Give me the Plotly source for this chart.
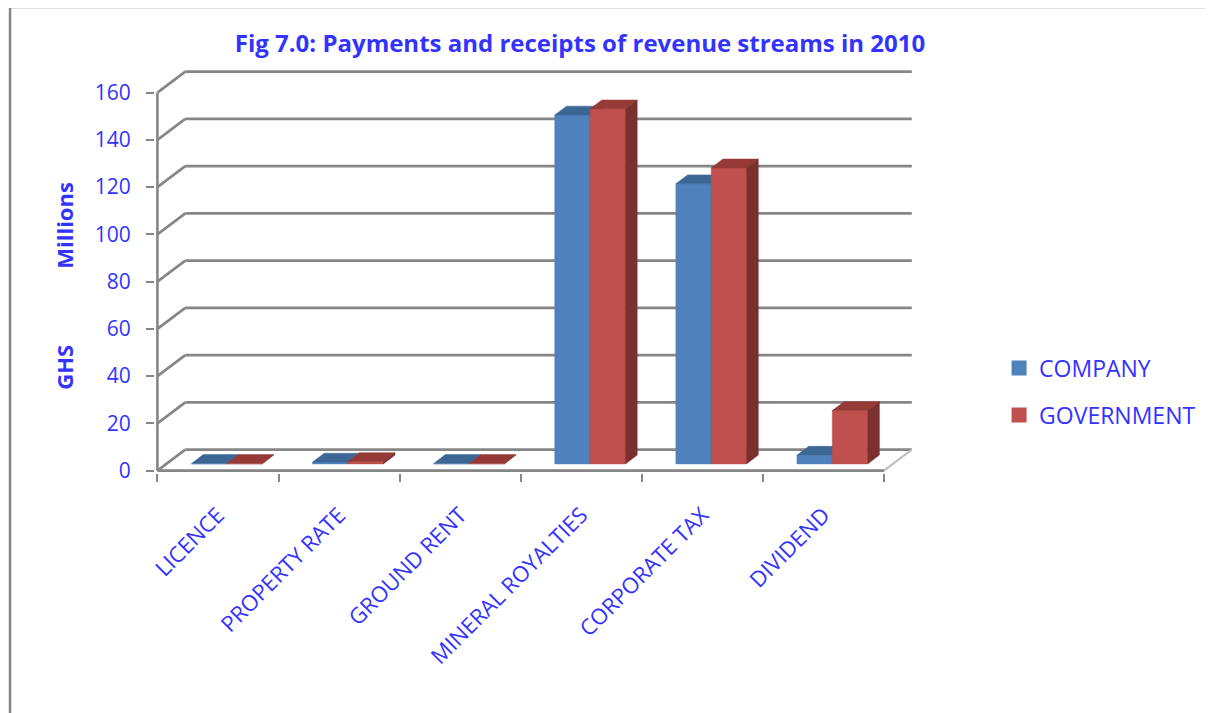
import plotly.graph_objects as go

# ---------------- data ----------------
categories = ["LICENCE", "PROPERTY RATE", "GROUND RENT", "MINERAL ROYALTIES", "CORPORATE TAX", "DIVIDEND"]
company = [0.2, 0.8, 0.2, 147.7, 118.6, 3.7]
government = [0.2, 1.0, 0.2, 150.3, 125.3, 22.6]
series_names = ["COMPANY", "GOVERNMENT"]
y_ticks = [0, 20, 40, 60, 80, 100, 120, 140, 160]

# ---------------- styling / geometry ----------------
BLUE_TXT = "#3333FF"
GRID = "#868686"
FONT = "Open Sans"
face_cols = {
    "COMPANY": ("#4F81BD", "#3C6694", "#385D8A"),
    "GOVERNMENT": ("#C0504D", "#953A37", "#7A302E"),
}
WALL_DX = 0.23      # depth offset (category units)
WALL_DY = 8.89      # depth offset (value units)
F_FRONT = 0.32      # bar front at this depth fraction
F_BACK = 0.74       # bar back at this depth fraction
BAR_W = 0.292

# page body has an 8px margin; work in page pixels and convert
OX, OY = 8, 8
W, H = 1213 - OX, 713 - OY

n = len(categories)
xmin, xmax = -0.5, n - 0.5

fig = go.Figure()

# ---- walls / gridlines ----
gx, gy = [], []
for v in y_ticks:
    gx += [xmin + WALL_DX, xmax + WALL_DX, None]
    gy += [v + WALL_DY, v + WALL_DY, None]
    gx += [xmin, xmin + WALL_DX, None]
    gy += [v, v + WALL_DY, None]
fig.add_trace(go.Scatter(x=gx, y=gy, mode="lines", line=dict(color=GRID, width=2.6),
                         hoverinfo="skip", showlegend=False))
fig.add_trace(go.Scatter(x=[xmin, xmax, xmax + WALL_DX], y=[0, 0, WALL_DY], mode="lines",
                         line=dict(color="#BFBFBF", width=2), hoverinfo="skip", showlegend=False))
fig.add_trace(go.Scatter(x=[xmin, xmin, None, xmin, xmax], y=[y_ticks[-1], 0, None, 0, 0], mode="lines",
                         line=dict(color=GRID, width=2.6), hoverinfo="skip", showlegend=False))

# ---- 3D bars ----
ddx = (F_BACK - F_FRONT) * WALL_DX
ddy = (F_BACK - F_FRONT) * WALL_DY
for s_idx, (name, vals) in enumerate(zip(series_names, [company, government])):
    front_c, top_c, side_c = face_cols[name]
    fx, fy, tx, ty, sx, sy = [], [], [], [], [], []
    for i, v in enumerate(vals):
        c = i + (s_idx - 0.5) * BAR_W
        x0 = c - BAR_W / 2 + F_FRONT * WALL_DX
        x1 = c + BAR_W / 2 + F_FRONT * WALL_DX
        y0 = F_FRONT * WALL_DY
        y1 = y0 + v
        fx += [x0, x1, x1, x0, x0, None]
        fy += [y0, y0, y1, y1, y0, None]
        tx += [x0, x1, x1 + ddx, x0 + ddx, x0, None]
        ty += [y1, y1, y1 + ddy, y1 + ddy, y1, None]
        sx += [x1, x1 + ddx, x1 + ddx, x1, x1, None]
        sy += [y0, y0 + ddy, y1 + ddy, y1, y0, None]
    for xs, ys, col in [(fx, fy, front_c), (tx, ty, top_c), (sx, sy, side_c)]:
        fig.add_trace(go.Scatter(x=xs, y=ys, mode="lines", fill="toself", fillcolor=col,
                                 line=dict(color=col, width=0.5), hoverinfo="skip", showlegend=False))

for s_idx, name in enumerate(series_names):
    fig.add_trace(go.Scatter(x=[None], y=[None], mode="markers", name=name, legendgroup=name,
                             marker=dict(symbol="square", size=15, color=face_cols[name][0])))

# ---------------- layout (page pixel targets) ----------------
PXU_X = 122.0
PXU_Y = 2.3625
xr = [-0.52, 5.74]
yr = [-1, 170]
AXIS_X_PAGE = 157
ZERO_Y_PAGE = 471

left = AXIS_X_PAGE - OX - (xmin - xr[0]) * PXU_X
pw = (xr[1] - xr[0]) * PXU_X
ph = (yr[1] - yr[0]) * PXU_Y
top = ZERO_Y_PAGE - OY - yr[1] * PXU_Y
bottom = H - top - ph
right = W - left - pw


def px_x(page_x):
    return (page_x - OX - left) / pw


def px_y(page_y):
    return (top + ph - (page_y - OY)) / ph


fig.update_layout(
    width=W, height=H, autosize=False,
    margin=dict(l=left, r=right, t=top, b=bottom, pad=0),
    paper_bgcolor="white", plot_bgcolor="white",
    font=dict(family=FONT, color=BLUE_TXT, size=21),
    title=dict(text="<b>Fig 7.0: Payments and receipts of revenue streams in 2010</b>",
               x=(580 - OX) / W, xref="container", xanchor="center",
               y=1 - (44 - OY) / H, yref="container", yanchor="middle",
               font=dict(family=FONT, size=24, color=BLUE_TXT)),
    xaxis=dict(range=xr, showgrid=False, zeroline=False, showline=False,
               tickmode="array", tickvals=list(range(n)), ticktext=categories,
               tickangle=-45, ticks="", ticklabelstandoff=24,
               tickfont=dict(size=22, color=BLUE_TXT, family=FONT),
               minor=dict(tickmode="array", tickvals=[i - 0.5 for i in range(n + 1)],
                          ticks="outside", ticklen=8, tickwidth=2.4, tickcolor=GRID, showgrid=False)),
    yaxis=dict(range=yr, showgrid=False, zeroline=False, showline=False,
               tickmode="array", tickvals=y_ticks, ticks="outside", ticklen=8, tickwidth=2.4,
               tickcolor=GRID, ticklabelstandoff=11,
               tickfont=dict(size=21, color=BLUE_TXT, family=FONT)),
    legend=dict(x=px_x(1005), xanchor="left", y=px_y(392), yanchor="middle",
                font=dict(size=23, color=BLUE_TXT, family=FONT), tracegroupgap=14,
                bgcolor="rgba(0,0,0,0)"),
    showlegend=True,
)

for txt, ypx in [("Millions", 226), ("GHS", 368)]:
    fig.add_annotation(text="<b>" + txt + "</b>", xref="paper", yref="paper",
                       x=px_x(63), y=px_y(ypx), textangle=-90,
                       showarrow=False, xanchor="center", yanchor="middle",
                       font=dict(size=22, color=BLUE_TXT, family=FONT))

fig.add_shape(type="rect", xref="paper", yref="paper",
              x0=px_x(8.5), x1=px_x(1240), y0=px_y(740), y1=px_y(7.5),
              line=dict(color=GRID, width=2.5), fillcolor="rgba(0,0,0,0)", layer="below")

fig.write_html("out.html")
